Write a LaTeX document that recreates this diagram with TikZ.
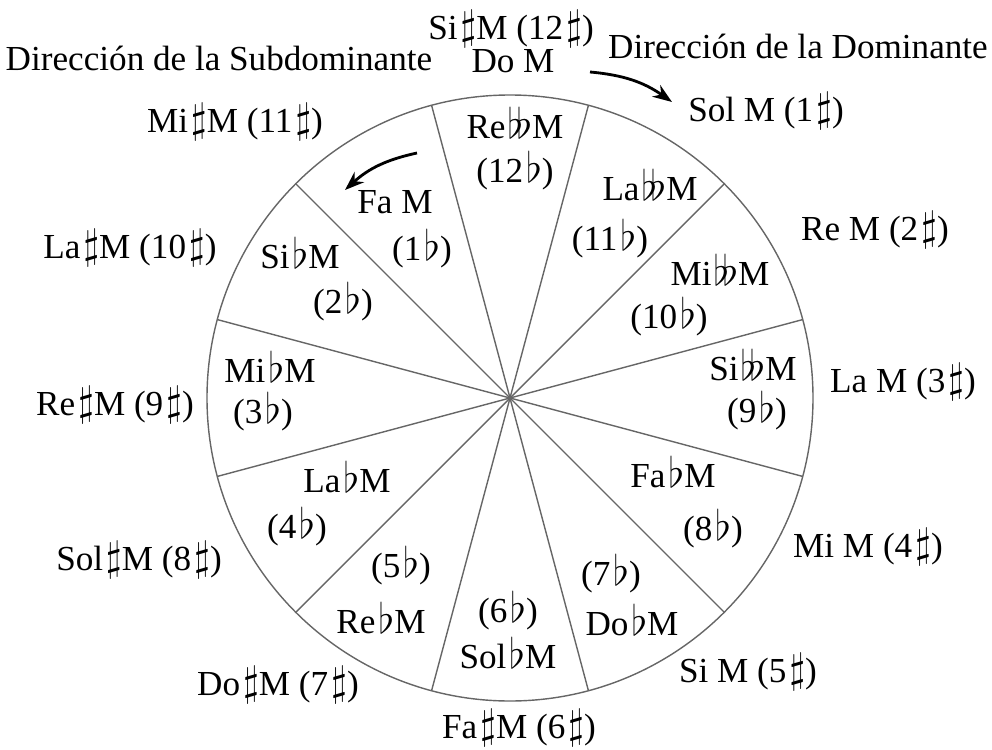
\documentclass[tikz,border=0pt]{standalone}
\usepackage{fontspec}
\setmainfont{Liberation Serif}
\usepackage{tikz}
\usetikzlibrary{arrows.meta}
\newcommand{\shp}{\kern0.08em\scalebox{1.15}{$\sharp$}}
\newcommand{\flt}{\kern0.08em\scalebox{1.15}{$\flat$}}
\newcommand{\dflt}{\kern0.05em\scalebox{1.15}{$\flat\!\flat$}}

\begin{document}
\begin{tikzpicture}[
  keylabel/.style={font=\fontsize{20}{23}\selectfont, inner sep=0pt, text height=0.72em, text depth=0.12em},
  wheel/.style={black!60, line width=0.8pt},
  dirarrow/.style={line width=1.6pt, -{Stealth[length=11pt,width=8pt]}}
]
  \useasboundingbox (-10.2,-7.02) rectangle (9.64,7.96);

  % Wheel
  \coordinate (hub) at (0,0);
  \draw[wheel] (hub) circle (6.06);
  \foreach \a in {15,45,...,345}
    \draw[wheel] (hub) -- (\a:6.06);

  % Inner keys (flats)
  \node[keylabel] (rebb)  at (0.10,5.30)  {Re\dflt M};
  \node[keylabel] (f12)   at (0.10,4.42)  {(12\flt)};
  \node[keylabel] (labb)  at (2.80,4.06)  {La\dflt M};
  \node[keylabel] (f11)   at (2.00,3.06)  {(11\flt)};
  \node[keylabel] (mibb)  at (4.20,2.36)  {Mi\dflt M};
  \node[keylabel] (f10)   at (3.18,1.50)  {(10\flt)};
  \node[keylabel] (sibb)  at (4.86,0.46)  {Si\dflt M};
  \node[keylabel] (f9)    at (4.94,-0.38) {(9\flt)};
  \node[keylabel] (fab)   at (3.26,-1.68) {Fa\flt M};
  \node[keylabel] (f8)    at (4.06,-2.74) {(8\flt)};
  \node[keylabel] (f7)    at (2.02,-3.64) {(7\flt)};
  \node[keylabel] (dob)   at (2.44,-4.64) {Do\flt M};
  \node[keylabel] (f6)    at (-0.04,-4.38) {(6\flt)};
  \node[keylabel] (solb)  at (-0.04,-5.30) {Sol\flt M};
  \node[keylabel] (f5)    at (-2.18,-3.48) {(5\flt)};
  \node[keylabel] (reb)   at (-2.58,-4.60) {Re\flt M};
  \node[keylabel] (lab)   at (-3.26,-1.78) {La\flt M};
  \node[keylabel] (f4)    at (-4.26,-2.70) {(4\flt)};
  \node[keylabel] (mib)   at (-4.80,0.42) {Mi\flt M};
  \node[keylabel] (f3)    at (-4.94,-0.40) {(3\flt)};
  \node[keylabel] (sib)   at (-4.20,2.70) {Si\flt M};
  \node[keylabel] (f2)    at (-3.34,1.80) {(2\flt)};
  \node[keylabel] (fa)    at (-2.30,3.80) {Fa M};
  \node[keylabel] (f1)    at (-1.76,2.86) {(1\flt)};

  % Outer keys (sharps)
  \node[keylabel] (sis)   at (0.02,7.28)  {Si\shp M (12\shp)};
  \node[keylabel] (do)    at (0.06,6.62)  {Do M};
  \node[keylabel] (sol)   at (5.12,5.64)  {Sol M (1\shp)};
  \node[keylabel] (re)    at (7.30,3.26)  {Re M (2\shp)};
  \node[keylabel] (la)    at (7.86,0.22)  {La M (3\shp)};
  \node[keylabel] (mi)    at (7.16,-3.08) {Mi M (4\shp)};
  \node[keylabel] (si)    at (4.76,-5.58) {Si M (5\shp)};
  \node[keylabel] (fas)   at (0.18,-6.70) {Fa\shp M (6\shp)};
  \node[keylabel] (dos)   at (-4.64,-5.84) {Do\shp M (7\shp)};
  \node[keylabel] (sols)  at (-7.42,-3.34) {Sol\shp M (8\shp)};
  \node[keylabel] (res)   at (-7.90,-0.24) {Re\shp M (9\shp)};
  \node[keylabel] (las)   at (-7.60,2.90) {La\shp M (10\shp)};
  \node[keylabel] (mis)   at (-5.50,5.42) {Mi\shp M (11\shp)};

  % Directions
  \node[keylabel] (subdir) at (-5.82,6.66) {Dirección de la Subdominante};
  \node[keylabel] (domdir) at (5.76,6.90)  {Dirección de la Dominante};
  \coordinate (domA) at (1.60,6.52);
  \coordinate (domB) at (3.24,5.92);
  \coordinate (subA) at (-1.86,4.90);
  \coordinate (subB) at (-3.30,4.16);
  \draw[dirarrow] (domA) to[bend left=15] (domB);
  \draw[dirarrow] (subA) to[bend right=15] (subB);
\end{tikzpicture}
\end{document}
